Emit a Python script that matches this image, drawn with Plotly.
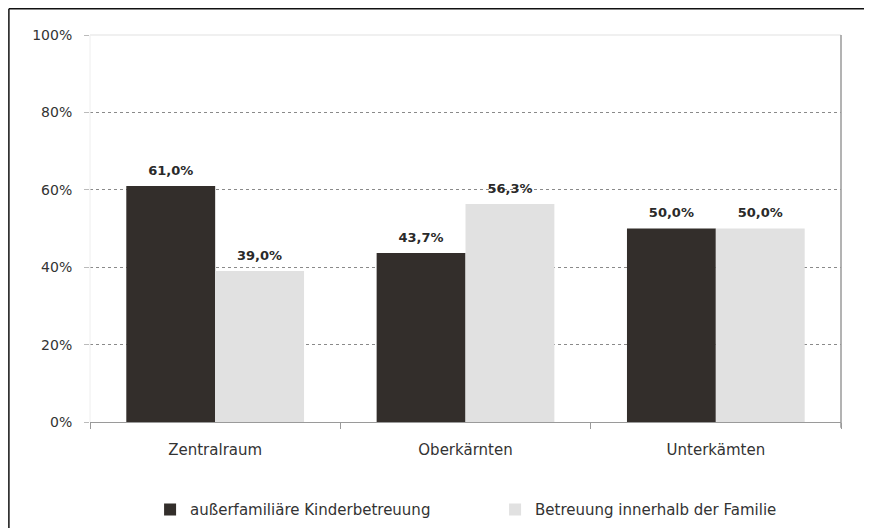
import plotly.graph_objects as go

regions = ["Zentralraum", "Oberkärnten", "Unterkämten"]
ausser = [61.0, 43.7, 50.0]
familie = [39.0, 56.3, 50.0]
y_ticks = [0, 20, 40, 60, 80, 100]
y_labels = ["0%", "20%", "40%", "60%", "80%", "100%"]

series = [
    ("außerfamiliäre Kinderbetreuung", ausser, "#332e2b"),
    ("Betreuung innerhalb der Familie", familie, "#e1e1e1"),
]

fig = go.Figure()
for i, (name, vals, color) in enumerate(series):
    fig.add_trace(go.Bar(
        x=regions, y=vals, name=name, offsetgroup=str(i),
        marker=dict(color=color, line=dict(width=0)),
    ))
# value labels: invisible grouped markers keep the text a little above each bar
for i, (name, vals, color) in enumerate(series):
    fig.add_trace(go.Scatter(
        x=regions, y=vals, mode="markers+text", offsetgroup=str(i),
        marker=dict(size=11, opacity=0),
        text=[f"<b>{v:.1f}%</b>".replace(".", ",") for v in vals],
        textposition="top center",
        textfont=dict(size=13, color="#2a2a2a"),
        showlegend=False, hoverinfo="skip", cliponaxis=False,
    ))

# page has an 8px body offset; figure sized to fit the window
fig.update_layout(
    width=864, height=520,
    paper_bgcolor="white", plot_bgcolor="white",
    separators=",.",
    barmode="group", bargap=0.29, bargroupgap=0,
    scattermode="group", scattergap=0.29,
    margin=dict(l=82, r=31, t=27, b=106),
    font=dict(family="DejaVu Sans, sans-serif", size=14, color="#333333"),
    showlegend=True,
    legend=dict(orientation="h", x=0.08, xanchor="left",
                yref="container", y=0.035, yanchor="middle",
                font=dict(size=15, color="#333333"), itemwidth=30,
                traceorder="normal", entrywidthmode="pixels", entrywidth=300),
)
fig.update_xaxes(
    showline=True, linecolor="#9a9a9a", linewidth=1,
    ticks="outside", tickson="boundaries", ticklen=6, tickcolor="#9a9a9a",
    ticklabelstandoff=14, automargin=False,
    showgrid=False, tickfont=dict(size=15, color="#333333"),
)
fig.update_yaxes(
    range=[0, 100], tickvals=y_ticks, ticktext=y_labels,
    showgrid=True, gridcolor="#8a8a8a", griddash="dot", gridwidth=1,
    zeroline=False, showline=False, automargin=False,
    ticks="outside", ticklen=5, tickcolor="#bbbbbb",
    ticklabelstandoff=9,
    tickfont=dict(size=14, color="#333333"),
)

# light top/left frame and gray right edge of plot area
fig.add_shape(type="line", xref="x domain", yref="y domain", x0=0, x1=1, y0=1, y1=1,
              line=dict(color="#f0f0f0", width=2))
fig.add_shape(type="line", xref="x domain", yref="y domain", x0=0, x1=0, y0=0, y1=1,
              line=dict(color="#eeeeee", width=1))
fig.add_shape(type="line", xref="x domain", yref="y domain", x0=1, x1=1, y0=-0.015, y1=1,
              line=dict(color="#9a9a9a", width=1.5))
# outer image frame (left and top visible)
fig.add_shape(type="line", xref="paper", yref="paper", x0=-0.108, x1=1.3, y0=1.068, y1=1.068,
              line=dict(color="#111111", width=1.5))
fig.add_shape(type="line", xref="paper", yref="paper", x0=-0.108, x1=-0.108, y0=-0.3, y1=1.068,
              line=dict(color="#111111", width=1.5))

fig.write_html("out.html")
